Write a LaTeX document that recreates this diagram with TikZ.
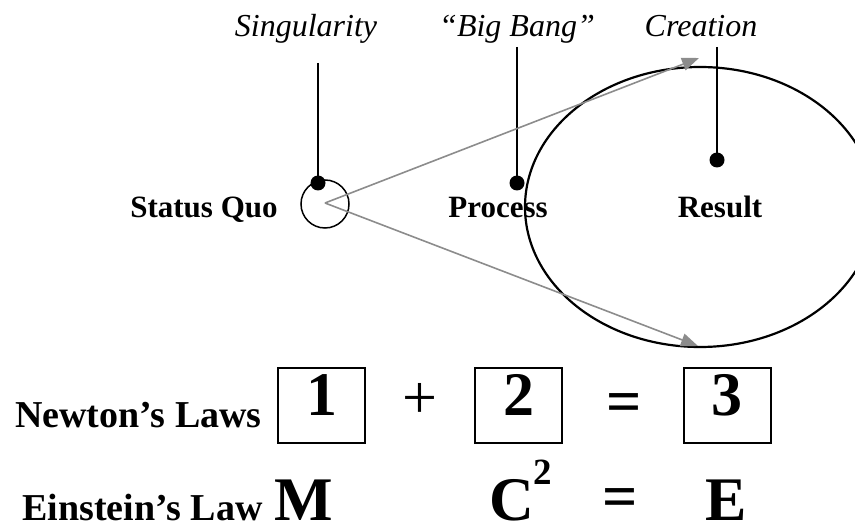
\documentclass[tikz,border=0pt]{standalone}
\usepackage{fontspec}
\setmainfont{Liberation Serif}
\usetikzlibrary{arrows.meta}
\definecolor{arrowgray}{HTML}{8C8C8C}
\tikzset{
  toplabel/.style={font=\fontsize{32}{38}\selectfont\itshape, anchor=base, inner sep=0pt},
  midlabel/.style={font=\fontsize{31}{37}\selectfont\bfseries, anchor=base, inner sep=0pt},
  rowlabel/.style={font=\fontsize{38}{44}\selectfont\bfseries, anchor=base west, inner sep=0pt},
  bigsym/.style={font=\fontsize{62}{70}\selectfont\bfseries, anchor=base, inner sep=0pt},
  opsym/.style={font=\fontsize{62}{70}\selectfont, anchor=base, inner sep=0pt},
  numbox/.style={draw, line width=2pt, minimum width=87pt, minimum height=75pt, inner sep=0pt},
  pin/.style={line width=1.6pt},
  pindot/.style={circle, fill=black, inner sep=0pt, minimum size=15pt},
  ray/.style={line width=1.6pt, arrowgray, -{Triangle[length=17pt,width=13pt]}},
}
\begin{document}
\begin{tikzpicture}[x=1pt,y=-1pt]
\useasboundingbox (0,0) rectangle (855,529);
\clip (0,0) rectangle (855,529);
% top labels
\node[toplabel] (sing) at (306,37) {Singularity};
\node[toplabel] (bb) at (517,37) {“Big Bang”};
\node[toplabel] (crea) at (701,37) {Creation};
% pin tops
\coordinate (singtop) at (318,63);
\coordinate (bbtop) at (517,47);
\coordinate (creatop) at (717,47);
% dots
\node[pindot] (singdot) at (318,183) {};
\node[pindot] (bbdot) at (517,183) {};
\node[pindot] (creadot) at (717,160) {};
\draw[pin] (singtop) -- (singdot.center);
\draw[pin] (bbtop) -- (bbdot.center);
\draw[pin] (creatop) -- (creadot.center);
% circles
\node[draw, circle, line width=1.5pt, minimum size=48pt, inner sep=0pt] (small) at (325,204) {};
\draw[line width=2.2pt] (700,207) ellipse [x radius=175, y radius=140];
% middle labels
\node[midlabel] (sq) at (204,218) {Status Quo};
\node[midlabel] (proc) at (498,218) {Process};
\node[midlabel] (res) at (720,218) {Result};
% rays
\coordinate (rayorig) at (325,203);
\coordinate (raytop) at (699,58);
\coordinate (raybot) at (698,346);
\draw[ray] (rayorig) -- (raytop);
\draw[ray] (rayorig) -- (raybot);
% Newton row
\node[rowlabel] (newton) at (15,428) {Newton’s Laws};
\node[numbox] (b1) at (321.5,405.5) {};
\node[numbox] (b2) at (518.5,405.5) {};
\node[numbox] (b3) at (727,405.5) {};
\node[bigsym] (n1) at (321.5,416) {1};
\node[bigsym] (n2) at (518.5,416) {2};
\node[bigsym] (n3) at (727,416) {3};
\node[opsym] (plus) at (420,419) {+};
\node[bigsym] (eq1) at (624,423) {=};
% Einstein row
\node[rowlabel] (einstein) at (22,520) {Einstein’s Law};
\node[bigsym] (m) at (304,521) {M};
\node[bigsym] (c) at (512,521) {C};
\node[font=\fontsize{37}{42}\selectfont\bfseries, anchor=base west, inner sep=0pt, xshift=-1pt, yshift=36pt] (sq2) at (c.base east) {2};
\node[bigsym] (eq2) at (620,518) {=};
\node[bigsym] (e) at (726,521) {E};
\end{tikzpicture}
\end{document}
